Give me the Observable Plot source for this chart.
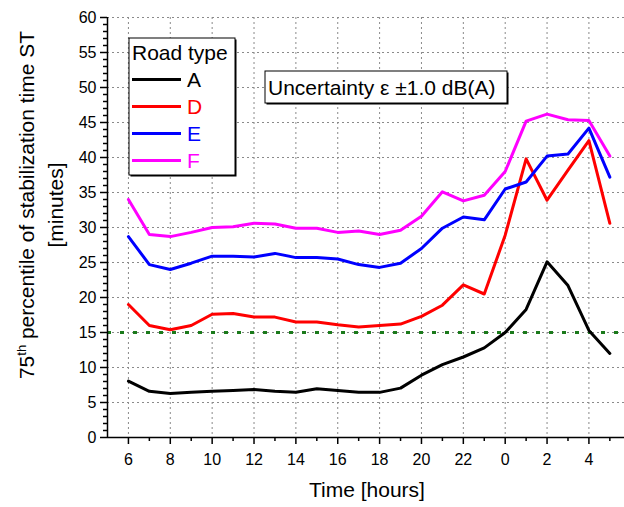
<!DOCTYPE html>
<html><head><meta charset="utf-8">
<script src="https://cdn.jsdelivr.net/npm/d3@7"></script>
<script src="https://cdn.jsdelivr.net/npm/@observablehq/plot@0.6"></script>
<style>body{margin:0;background:#fff} svg{display:block}</style>
</head><body><div id="chart"></div>
<script>
const hours = [6,7,8,9,10,11,12,13,14,15,16,17,18,19,20,21,22,23,0,1,2,3,4,5];
const seriesNames = ["A","D","E","F"];
const seriesColors = ["#000000","#ff0000","#0000ff","#ff00ff"];
const valuesA = [8.05,6.6,6.3,6.45,6.6,6.7,6.85,6.6,6.45,6.95,6.7,6.45,6.45,7.05,8.9,10.4,11.5,12.8,15.0,18.3,25.1,21.7,15.3,12.0];
const valuesD = [19.0,16.0,15.4,16.0,17.6,17.7,17.2,17.2,16.5,16.5,16.1,15.8,16.0,16.2,17.3,18.9,21.8,20.5,28.9,39.8,33.9,38.2,42.4,30.6];
const valuesE = [28.7,24.7,24.0,24.9,25.9,25.9,25.8,26.3,25.7,25.7,25.5,24.7,24.3,24.9,27.0,29.9,31.5,31.1,35.5,36.5,40.2,40.5,44.2,37.2];
const valuesF = [34.0,29.0,28.7,29.3,30.0,30.1,30.6,30.5,29.9,29.9,29.3,29.5,29.0,29.6,31.6,35.1,33.8,34.6,38.0,45.2,46.2,45.4,45.3,40.2];
const threshold = 15;
const yMajorTicks = [0,5,10,15,20,25,30,35,40,45,50,55,60];
const legendTitle = "Road type";
const annotation = "Uncertainty \u03b5 \u00b11.0 dB(A)";
const xTitle = "Time [hours]";
const yTitle1a = "75", yTitle1sup = "th", yTitle1b = " percentile of stabilization time ST";
const yTitle2 = "[minutes]";

const allValues = [valuesA, valuesD, valuesE, valuesF];
const idx = hours.map((h, i) => i);
const xMajor = idx.filter(i => i % 2 === 0);
const xMinor = idx.filter(i => i % 2 === 1);
const yMinorTicks = d3.range(0, 61, 1).filter(v => v % 5 !== 0);
const rows = seriesNames.flatMap((s, k) => allValues[k].map((v, i) => ({series: s, i, v})));

const font = "'Liberation Sans', Arial, sans-serif";
const gridStyle = {stroke: "#8a8a8a", strokeOpacity: 1, strokeWidth: 1, strokeDasharray: "2,3"};

const chart = Plot.plot({
  width: 624, height: 507,
  marginLeft: 107, marginRight: 0, marginTop: 17, marginBottom: 70,
  style: {fontFamily: font, fontSize: "16px", background: "#fff", color: "#000"},
  x: {domain: [-1, 23.7], axis: null},
  y: {domain: [0, 60], axis: null},
  color: {domain: seriesNames, range: seriesColors},
  marks: [
    Plot.gridX(xMajor, gridStyle),
    Plot.gridY(yMajorTicks.slice(1), gridStyle),
    Plot.ruleY([threshold], {stroke: "#1b7a1b", strokeWidth: 3, strokeDasharray: "4,9"}),
    Plot.lineY(rows, {x: "i", y: "v", z: "series", stroke: "series", strokeWidth: 3}),
    Plot.axisX(xMajor, {tickSize: 7, tickPadding: 9, tickFormat: i => hours[i], fontSize: 16, label: null, strokeWidth: 1.5}),
    Plot.axisX(xMinor, {tickSize: 4, tickFormat: () => "", label: null, strokeWidth: 1.5}),
    Plot.axisY(yMajorTicks, {tickSize: 7, tickPadding: 4, fontSize: 16, label: null, strokeWidth: 1.5}),
    Plot.axisY(yMinorTicks, {tickSize: 4, tickFormat: () => "", label: null, strokeWidth: 1.5}),
    Plot.ruleX([-1], {strokeWidth: 1.5}),
    Plot.ruleY([0], {strokeWidth: 1.5})
  ]
});
document.getElementById("chart").append(chart);

const svg = d3.select(chart);
const g = svg.append("g").attr("font-family", font).attr("text-anchor", "start");

// x title
g.append("text").attr("x", 367).attr("y", 497).attr("text-anchor", "middle")
  .attr("font-size", 21).text(xTitle);

// y title
const yt = g.append("g").attr("transform", "translate(27,205) rotate(-90)");
const t1 = yt.append("text").attr("text-anchor", "middle").attr("y", 7).attr("font-size", 21);
t1.append("tspan").text(yTitle1a);
t1.append("tspan").attr("dy", -8).attr("font-size", 13).text(yTitle1sup);
t1.append("tspan").attr("dy", 8).text(yTitle1b);
g.append("text").attr("transform", "translate(56,205) rotate(-90)").attr("y", 7)
  .attr("text-anchor", "middle").attr("font-size", 21).text(yTitle2);

// boxes with shadow
function box(x, y, w, h) {
  g.append("rect").attr("x", x + 1.5).attr("y", y + 1.5).attr("width", w).attr("height", h).attr("fill", "#000");
  g.append("rect").attr("x", x).attr("y", y).attr("width", w).attr("height", h)
    .attr("fill", "#fff").attr("stroke", "#000").attr("stroke-width", 1);
}

// legend
box(129, 38, 106, 137);
g.append("text").attr("x", 132).attr("y", 60).attr("font-size", 21).text(legendTitle);
seriesNames.forEach((s, k) => {
  const yy = 79.5 + k * 27;
  g.append("line").attr("x1", 132).attr("x2", 181).attr("y1", yy).attr("y2", yy)
    .attr("stroke", seriesColors[k]).attr("stroke-width", 3);
  g.append("text").attr("x", 187).attr("y", yy + 7.5).attr("font-size", 21)
    .attr("fill", seriesColors[k]).text(s);
});

// annotation
box(265, 71, 242, 32);
g.append("text").attr("x", 268).attr("y", 95).attr("font-size", 21).text(annotation);
</script>
</body></html>
